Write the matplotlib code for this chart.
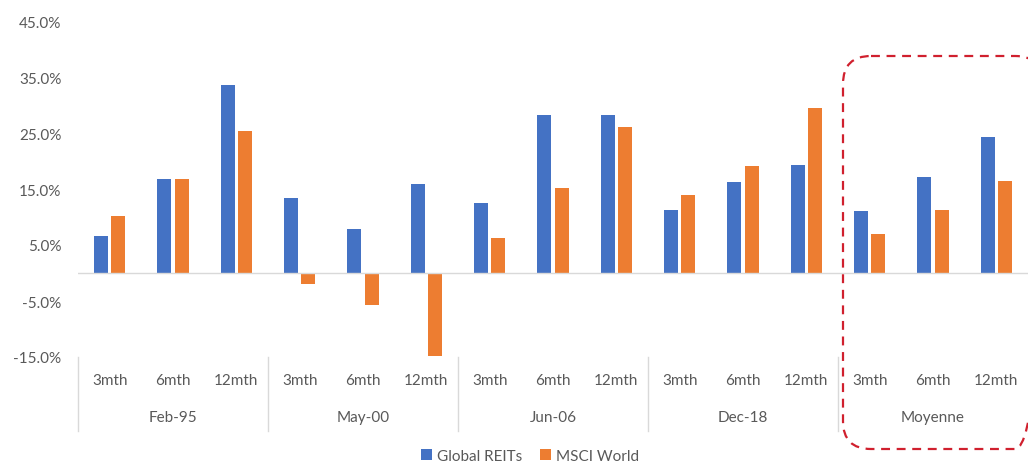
import matplotlib
matplotlib.use('Agg')
import matplotlib.pyplot as plt
import numpy as np
from matplotlib.patches import FancyBboxPatch
from matplotlib.lines import Line2D

plt.rcParams['font.family'] = ['Lato', 'DejaVu Sans']

# data (% returns)
periods = ['Feb-95', 'May-00', 'Jun-06', 'Dec-18', 'Moyenne']
horizons = ['3mth', '6mth', '12mth']
reits = [6.6, 16.7, 33.5,
         13.4, 7.9, 15.9,
         12.5, 28.3, 28.3,
         11.3, 16.2, 19.3,
         11.0, 17.2, 24.2]
msci = [10.2, 16.7, 25.4,
        -2.0, -5.7, -14.8,
        6.3, 15.2, 26.1,
        14.0, 19.1, 29.5,
        7.0, 11.2, 16.4]
yticks = [-15, -5, 5, 15, 25, 35, 45]

BLUE = '#4472C4'
ORANGE = '#ED7D31'
TXT = '#595959'
W, H = 1028, 464

fig = plt.figure(figsize=(W / 100, H / 100), dpi=100)
ax = fig.add_axes([78 / W, 1 - 358 / H, 1 - 78 / W, (358 - 22) / H])

x = np.arange(len(reits))
bw = 0.22
ax.bar(x - bw / 2 - 0.025, reits, bw, color=BLUE, label='Global REITs')
ax.bar(x + bw / 2 + 0.025, msci, bw, color=ORANGE, label='MSCI World')
ax.axhline(0, color='#D9D9D9', lw=1)

ax.set_xlim(-0.5, len(reits) - 0.5)
ax.set_ylim(-15, 45)
ax.set_yticks(yticks)
ax.set_yticklabels([f'{v:.1f}%' for v in yticks], color=TXT, fontsize=11)
ax.tick_params(axis='y', length=0, pad=12)
ax.set_xticks([])
for s in ax.spines.values():
    s.set_visible(False)

# category axis labels
trans = ax.get_xaxis_transform()
for i in range(len(reits)):
    ax.text(i, -23 / 336, horizons[i % 3], transform=trans, ha='center',
            va='center', color=TXT, fontsize=11)
for g, name in enumerate(periods):
    ax.text(g * 3 + 1, -60 / 336, name, transform=trans, ha='center',
            va='center', color=TXT, fontsize=11)
for g in range(len(periods)):
    ax.add_line(Line2D([g * 3 - 0.5] * 2, [0, -74 / 336], transform=trans,
                       color='#D9D9D9', lw=1, clip_on=False))

fig.legend(loc='center', bbox_to_anchor=(530 / W, 1 - 457 / H), ncol=2,
           frameon=False, fontsize=11, handlelength=0.7, handleheight=0.7,
           columnspacing=1.2, handletextpad=0.3, labelcolor=TXT)

# red dashed highlight box (overlay in pixel coords)
ov = fig.add_axes([0, 0, 1, 1], facecolor='none')
ov.set_xlim(0, W)
ov.set_ylim(H, 0)
ov.axis('off')
ov.add_patch(FancyBboxPatch((843, 57), 200, 393,
                            boxstyle='round,pad=0,rounding_size=28',
                            fill=False, ec='#D0202E', lw=1.6,
                            ls=(0, (4, 3))))

fig.savefig('out.png', dpi=100)
